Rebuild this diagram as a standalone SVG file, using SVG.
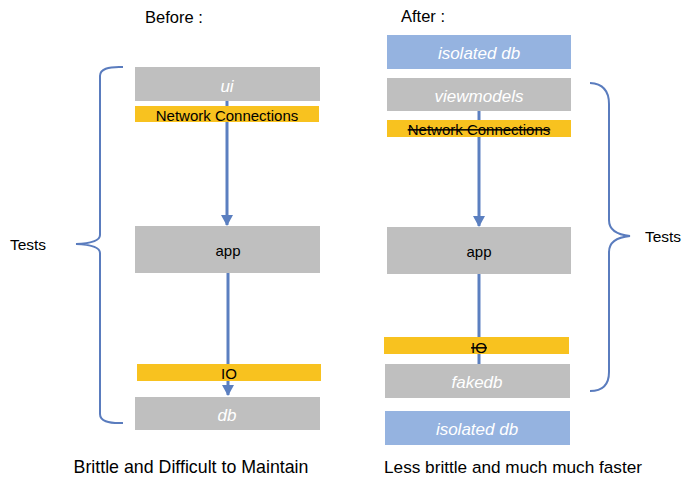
<svg xmlns="http://www.w3.org/2000/svg" width="698" height="493" viewBox="0 0 698 493">
<style>
text{font-family:"Liberation Sans",Arial,sans-serif;dominant-baseline:central;text-anchor:middle}
.gray{fill:#BFBFBF}
.yel{fill:#F8C21F}
.blue{fill:#95B3E0}
.wi{fill:#FFFFFF;font-style:italic;font-size:17px}
.blk{fill:#000000;font-size:15px}
.cap{fill:#000000;font-size:16.5px}
.foot{fill:#000000;font-size:17.8px}
.strike{text-decoration:line-through}
.conn{stroke:#5B7FC0;stroke-width:3;fill:none}
.brace{stroke:#5A7CBE;stroke-width:2;fill:none}
</style>
<defs>
<marker id="ah" markerUnits="userSpaceOnUse" markerWidth="11" markerHeight="12" refX="10" refY="6" orient="auto">
<path d="M0,0 L11,6 L0,12 Z" fill="#5B7FC0"/>
</marker>
</defs>
<rect width="698" height="493" fill="#FFFFFF"/>
<g id="connectors">
<line class="conn" x1="227" y1="101" x2="227" y2="225" marker-end="url(#ah)"/>
<line class="conn" x1="228" y1="273" x2="228" y2="395" marker-end="url(#ah)"/>
<line class="conn" x1="479" y1="111" x2="479" y2="226" marker-end="url(#ah)"/>
<line class="conn" x1="479" y1="274" x2="479" y2="364"/>
</g>
<g id="titles">
<text class="cap" x="174" y="17">Before :</text>
<text class="cap" x="423" y="16">After :</text>
<text class="foot" x="191" y="467">Brittle and Difficult to Maintain</text>
<text class="foot" x="513" y="467" style="font-size:17.2px">Less brittle and much much faster</text>
</g>
<g id="left-brace">
<path class="brace" d="M123,67 Q100,66 100,76 L100,235 Q100,243 76,244 Q100,245 100,253 L100,414 Q100,424 123,423"/>
<text class="blk" x="28" y="244" style="font-size:15.5px">Tests</text>
</g>
<g id="right-brace">
<path class="brace" d="M590,83 Q609,84 609,104 L609,220 Q609,234 630,236 Q609,238 609,252 L609,372 Q609,391 590,391"/>
<text class="blk" x="663" y="236" style="font-size:15.5px">Tests</text>
</g>
<g id="before-ui">
<rect class="gray" x="135" y="67" width="185" height="34"/>
<text class="wi" x="227" y="86">ui</text>
</g>
<g id="before-network">
<rect class="yel" x="135" y="106" width="184" height="16"/>
<text class="blk" x="227" y="115">Network Connections</text>
</g>
<g id="before-app">
<rect class="gray" x="135" y="226" width="185" height="47"/>
<text class="blk" x="228" y="250">app</text>
</g>
<g id="before-io">
<rect class="yel" x="137" y="364" width="184" height="17"/>
<text class="blk" x="229" y="373">IO</text>
</g>
<g id="before-db">
<rect class="gray" x="135" y="397" width="185" height="33"/>
<text class="wi" x="227" y="415">db</text>
</g>
<g id="after-isolated-top">
<rect class="blue" x="387" y="35" width="184" height="34"/>
<text class="wi" x="479" y="53">isolated db</text>
</g>
<g id="after-viewmodels">
<rect class="gray" x="387" y="78" width="184" height="33"/>
<text class="wi" x="479" y="96">viewmodels</text>
</g>
<g id="after-network">
<rect class="yel" x="387" y="120" width="184" height="17"/>
<text class="blk strike" x="479" y="129">Network Connections</text>
</g>
<g id="after-app">
<rect class="gray" x="387" y="227" width="184" height="47"/>
<text class="blk" x="479" y="251">app</text>
</g>
<g id="after-io">
<rect class="yel" x="384" y="337" width="185" height="17"/>
<text class="blk strike" x="479" y="347">IO</text>
</g>
<g id="after-fakedb">
<rect class="gray" x="385" y="364" width="185" height="34"/>
<text class="wi" x="477" y="382">fakedb</text>
</g>
<g id="after-isolated-bottom">
<rect class="blue" x="385" y="411" width="185" height="34"/>
<text class="wi" x="477" y="429">isolated db</text>
</g>
</svg>
